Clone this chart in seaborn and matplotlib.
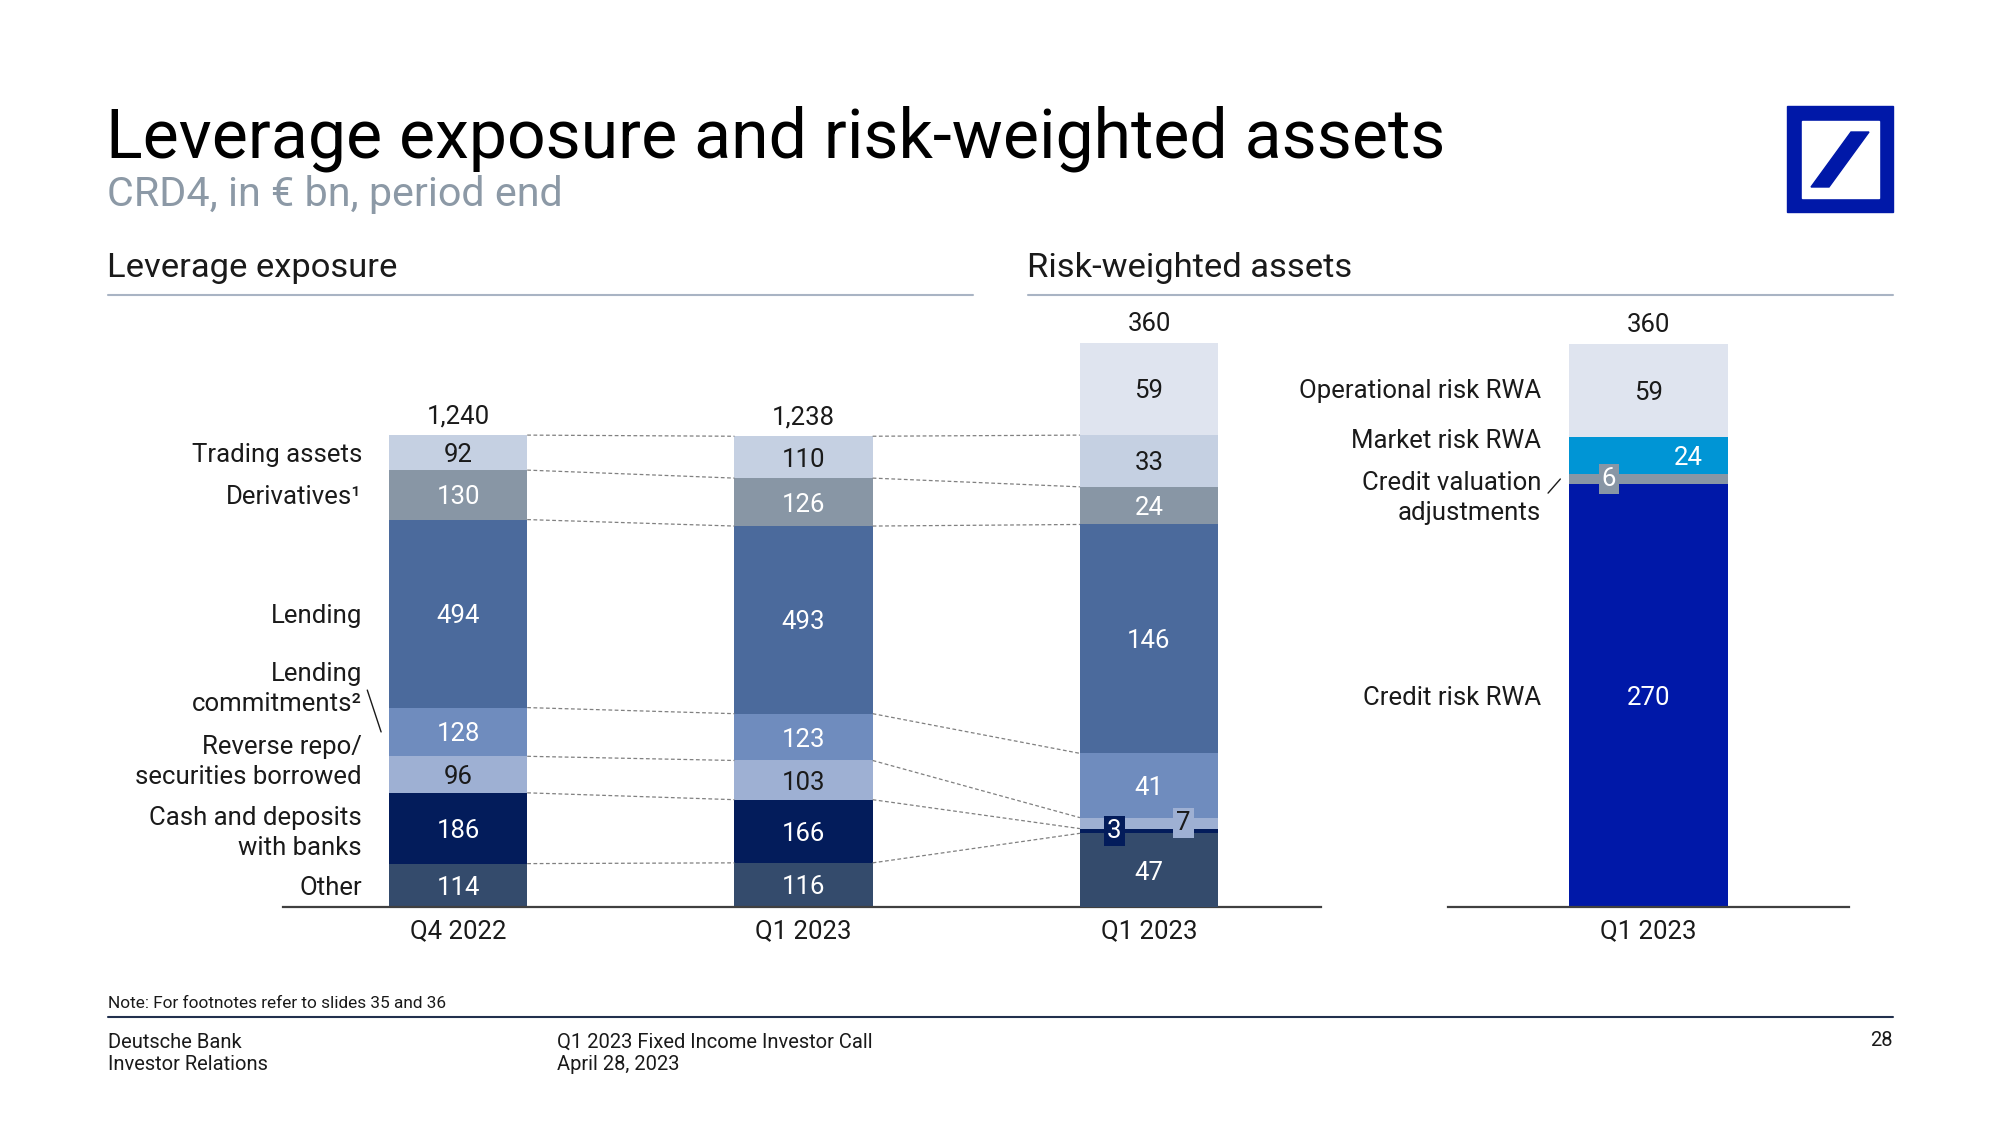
import matplotlib
matplotlib.use("Agg")
import matplotlib.pyplot as plt
from matplotlib.lines import Line2D
from matplotlib.patches import Rectangle, Polygon
import seaborn as sns

# ------------------------ Data ------------------------

periods = ["Q4 2022", "Q1 2023", "Q1 2023"]

# Leverage exposure, bottom to top
lev_labels = ["Other", "Cash and deposits\nwith banks", "Reverse repo/\nsecurities borrowed",
              "Lending\ncommitments²", "Lending", "Derivatives¹", "Trading assets"]
lev_q4 = [114, 186, 96, 128, 494, 130, 92]
lev_q1 = [116, 166, 103, 123, 493, 126, 110]
lev_totals = [1240, 1238]

# RWA split along the leverage categories, operational risk on top
rwa_by_lev = [47, 3, 7, 41, 146, 24, 33, 59]
rwa_total = 360

# RWA by risk type, bottom to top
rwa_labels = ["Credit risk RWA", "Credit valuation\nadjustments", "Market risk RWA", "Operational risk RWA"]
rwa_types = [270, 6, 24, 59]

# ------------------------ Style ------------------------

DARK = "#1a1a1a"
DB_BLUE = "#0018a8"
lev_colors = ["#344b6c", "#031c5b", "#9eb0d3", "#6f8cbe", "#4b6a9c", "#8896a5", "#c5d0e2"]
lev_text = ["white", "white", DARK, "white", "white", "white", DARK]
oprisk_color = "#dfe4ef"
rwa_colors = [DB_BLUE, "#8896a5", "#0095d5", oprisk_color]
rwa_text = ["white", "white", "white", DARK]

sns.set_style("white")
plt.rcParams["font.family"] = ["Roboto", "DejaVu Sans"]
FS = 18.5
LS = 1.32

fig = plt.figure(figsize=(20, 11.25), dpi=100)


def fx(px):
    return px / 2000


def fy(py):
    return 1 - py / 1125


def va_for(s):
    return "center" if "\n" in s else "center_baseline"


ax = fig.add_axes([fx(283), fy(907), fx(1321) - fx(283), fy(300) - fy(907)])
ax2 = ax.twinx()
axr = fig.add_axes([fx(1448), fy(907), fx(1849) - fx(1448), fy(300) - fy(907)])

lev_ymax = 1595
link = sum(rwa_by_lev[:-1])  # RWA bar lines up with the leverage bars below op risk
rwa_ymax = lev_ymax * link / lev_totals[0]
k = lev_ymax / rwa_ymax
bw = 0.4

bar_kws = dict(native_scale=True, orient="x", width=bw, saturation=1,
               edgecolor="none", linewidth=0, errorbar=None)

# ------------------ Leverage bars ------------------
tops_q4, tops_q1, mid_q4 = [], [], []
c4, c1 = 0, 0
for i in range(len(lev_labels)):
    sns.barplot(x=[0, 1], y=[lev_q4[i], lev_q1[i]], bottom=[c4, c1],
                color=lev_colors[i], ax=ax, **bar_kws)
    ax.text(0, c4 + lev_q4[i] / 2, str(lev_q4[i]), ha="center", va="center_baseline",
            color=lev_text[i], fontsize=FS)
    ax.text(1, c1 + lev_q1[i] / 2, str(lev_q1[i]), ha="center", va="center_baseline",
            color=lev_text[i], fontsize=FS)
    mid_q4.append(c4 + lev_q4[i] / 2)
    c4 += lev_q4[i]
    c1 += lev_q1[i]
    tops_q4.append(c4)
    tops_q1.append(c1)

for x, (t, top) in enumerate(zip(lev_totals, [c4, c1])):
    ax.annotate(f"{t:,}", (x, top), xytext=(0, 5), textcoords="offset points",
                ha="center", va="bottom", fontsize=FS, color=DARK)

# ------------------ RWA bar in the leverage panel ------------------
colors3 = lev_colors + [oprisk_color]
text3 = lev_text + [DARK]
small3 = {1: -0.1, 2: 0.1}
rwa_tops = []
c = 0
for i, v in enumerate(rwa_by_lev):
    sns.barplot(x=[2], y=[v], bottom=[c], color=colors3[i], ax=ax2, **bar_kws)
    if i in small3:
        ax2.text(2 + small3[i], c + v / 2, str(v), ha="center", va="center",
                 color=text3[i], fontsize=FS,
                 bbox=dict(boxstyle="square,pad=0.12", fc=colors3[i], ec="none"))
    else:
        ax2.text(2, c + v / 2, str(v), ha="center", va="center_baseline",
                 color=text3[i], fontsize=FS)
    c += v
    rwa_tops.append(c)
ax2.annotate(f"{rwa_total}", (2, c), xytext=(0, 5), textcoords="offset points",
             ha="center", va="bottom", fontsize=FS, color=DARK)

# dashed connectors
dash = dict(ls=(0, (3, 2)), lw=0.9, color="#808080")
for a, b in zip(tops_q4, tops_q1):
    ax.plot([bw / 2, 1 - bw / 2], [a, b], **dash)
for a, b in zip(tops_q1, rwa_tops[:-1]):
    ax.plot([1 + bw / 2, 2 - bw / 2], [a, b * k], **dash)

# category labels
lev_dy = [0, -12, 34, 112, 0, 0, 0]
for i, lab in enumerate(lev_labels):
    ax.text(-0.278, mid_q4[i] + lev_dy[i], lab, ha="right", va=va_for(lab),
            fontsize=FS, color=DARK, linespacing=LS)
ax.plot([-0.263, -0.223], [mid_q4[3] + 110, mid_q4[3]], color=DARK, lw=1)

# ------------------ RWA by risk type ------------------
small_r = {1: -0.1, 2: 0.1}
rwa_dy = [0, -12, 11, 1.5]
c = 0
for i, v in enumerate(rwa_types):
    sns.barplot(x=[0], y=[v], bottom=[c], color=rwa_colors[i], ax=axr, **bar_kws)
    if i == 1:
        axr.text(small_r[i], c + v / 2, str(v), ha="center", va="center", color="white",
                 fontsize=FS, bbox=dict(boxstyle="square,pad=0.12", fc=rwa_colors[i], ec="none"))
    else:
        axr.text(small_r.get(i, 0), c + v / 2, str(v), ha="center", va="center_baseline",
                 color=rwa_text[i], fontsize=FS)
    axr.text(-0.27, c + v / 2 + rwa_dy[i], rwa_labels[i], ha="right", va=va_for(rwa_labels[i]),
             fontsize=FS, color=DARK, linespacing=LS)
    c += v
axr.annotate(f"{rwa_total}", (0, c), xytext=(0, 5), textcoords="offset points",
             ha="center", va="bottom", fontsize=FS, color=DARK)
axr.plot([-0.253, -0.222], [sum(rwa_types[:2]) - 12, sum(rwa_types[:2]) - 3], color=DARK, lw=1)

# ------------------ Axes cosmetics ------------------
ax.set_xlim(-0.507, 2.498)
ax.set_ylim(0, lev_ymax)
ax2.set_ylim(0, rwa_ymax)
axr.set_xlim(-0.505, 0.505)
axr.set_ylim(0, rwa_ymax)

ax.set_xticks([0, 1, 2])
ax.set_xticklabels(periods)
axr.set_xticks([0])
axr.set_xticklabels(periods[-1:])
for a in (ax, ax2, axr):
    a.set_xlabel("")
    a.set_ylabel("")
    a.set_yticks([])
    a.tick_params(axis="x", length=0, pad=9, labelsize=FS, labelcolor=DARK)
    for s in ["top", "right", "left"]:
        a.spines[s].set_visible(False)
    a.spines["bottom"].set_color("#404040")
    a.spines["bottom"].set_linewidth(1.6)
    a.patch.set_visible(False)
ax2.spines["bottom"].set_visible(False)

# ------------------ Slide text ------------------
fig.text(fx(106), fy(157), "Leverage exposure and risk-weighted assets", fontsize=49,
         color="black", va="baseline")
fig.text(fx(107), fy(206), "CRD4, in € bn, period end", fontsize=29.7,
         color="#8c99a6", va="baseline")
fig.text(fx(107), fy(277), "Leverage exposure", fontsize=24.8, color=DARK, va="baseline")
fig.text(fx(1027), fy(277), "Risk-weighted assets", fontsize=24.8, color=DARK, va="baseline")
for x0, x1 in [(108, 973), (1028, 1893)]:
    fig.add_artist(Line2D([fx(x0), fx(x1)], [fy(295)] * 2, transform=fig.transFigure,
                          color="#a9b4c4", lw=1.5))

fig.text(fx(108), fy(1003), "Note: For footnotes refer to slides 35 and 36", fontsize=12.4,
         color=DARK, va="center")
fig.add_artist(Line2D([fx(108), fx(1893)], [fy(1017)] * 2, transform=fig.transFigure,
                      color="#22304d", lw=1.5))
fig.text(fx(108), fy(1042), "Deutsche Bank", fontsize=14.5, color=DARK, va="center")
fig.text(fx(108), fy(1064), "Investor Relations", fontsize=14.5, color=DARK, va="center")
fig.text(fx(557), fy(1042), "Q1 2023 Fixed Income Investor Call", fontsize=14.5, color=DARK, va="center")
fig.text(fx(557), fy(1064), "April 28, 2023", fontsize=14.5, color=DARK, va="center")
fig.text(fx(1893), fy(1040), "28", fontsize=14.5, color=DARK, va="center", ha="right")

# logo
fig.add_artist(Rectangle((fx(1787), fy(212)), fx(1893) - fx(1787), fy(106) - fy(212),
                         transform=fig.transFigure, color=DB_BLUE))
fig.add_artist(Rectangle((fx(1802), fy(198)), fx(1879) - fx(1802), fy(121) - fy(198),
                         transform=fig.transFigure, color="white"))
fig.add_artist(Polygon([(fx(1851), fy(132)), (fx(1869), fy(132)), (fx(1829), fy(187)),
                        (fx(1811), fy(187))], closed=True, transform=fig.transFigure, color=DB_BLUE))

fig.savefig("out.png", dpi=100)
